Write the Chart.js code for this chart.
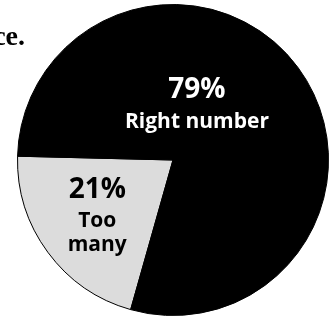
<!DOCTYPE html>
<html>
<head>
<meta charset="utf-8">
<script src="https://cdn.jsdelivr.net/npm/chart.js@4.4.0/dist/chart.umd.min.js"></script>
<style>
  html, body { margin: 0; padding: 0; background: #fff; }
  #wrap { position: relative; width: 335px; height: 320px; }
</style>
</head>
<body>
<div id="wrap"><canvas id="myChart" width="335" height="320"></canvas></div>
<script>
// answer shares (percent)
const answers = ["Too many", "Right number"];
const shares = [21, 79];
const sliceColors = ["#dcdcdc", "#000000"];

// label placement relative to pie centre (fraction of radius), text colour, line sizes
const labelStyle = [
  { dx: -0.487, dy: 0.244, color: "#000", sizes: [28, 21, 21], gaps: [29, 24] },
  { dx: 0.154, dy: -0.397, color: "#fff", sizes: [28, 21], gaps: [30] },
];

const sliceLabels = {
  id: "sliceLabels",
  afterDatasetsDraw(chart) {
    const c = chart.ctx;
    const arcs = chart.getDatasetMeta(0).data;
    c.save();
    c.textAlign = "center";
    c.textBaseline = "alphabetic";
    arcs.forEach((arc, i) => {
      const st = labelStyle[i];
      const r = arc.outerRadius;
      const x = arc.x + st.dx * r;
      let y = arc.y + st.dy * r;
      let lines = [shares[i] + "%"];
      if (i === 0) lines = lines.concat(answers[i].split(" "));
      else lines.push(answers[i]);
      c.fillStyle = st.color;
      lines.forEach((t, k) => {
        c.font = "bold " + st.sizes[k] + "px 'Open Sans'";
        c.fillText(t, x, y);
        if (k < st.gaps.length) y += st.gaps[k];
      });
    });
    // tail of the heading that runs in from the left
    c.fillStyle = "#000";
    c.textAlign = "right";
    c.font = "bold 28px 'Liberation Serif'";
    c.fillText("ce.", 25, 45);
    c.restore();
  },
};

const ctx = document.getElementById("myChart").getContext("2d");
const myChart = new Chart(ctx, {
  type: "pie",
  data: {
    labels: answers,
    datasets: [
      {
        data: shares,
        backgroundColor: sliceColors,
        borderColor: "#000",
        borderWidth: 1,
      },
    ],
  },
  options: {
    responsive: false,
    animation: false,
    rotation: 195.8,
    layout: { padding: { left: 17, right: 6, top: 4, bottom: 4 } },
    plugins: {
      legend: { display: false },
      tooltip: { enabled: false },
    },
  },
  plugins: [sliceLabels],
});
</script>
</body>
</html>
